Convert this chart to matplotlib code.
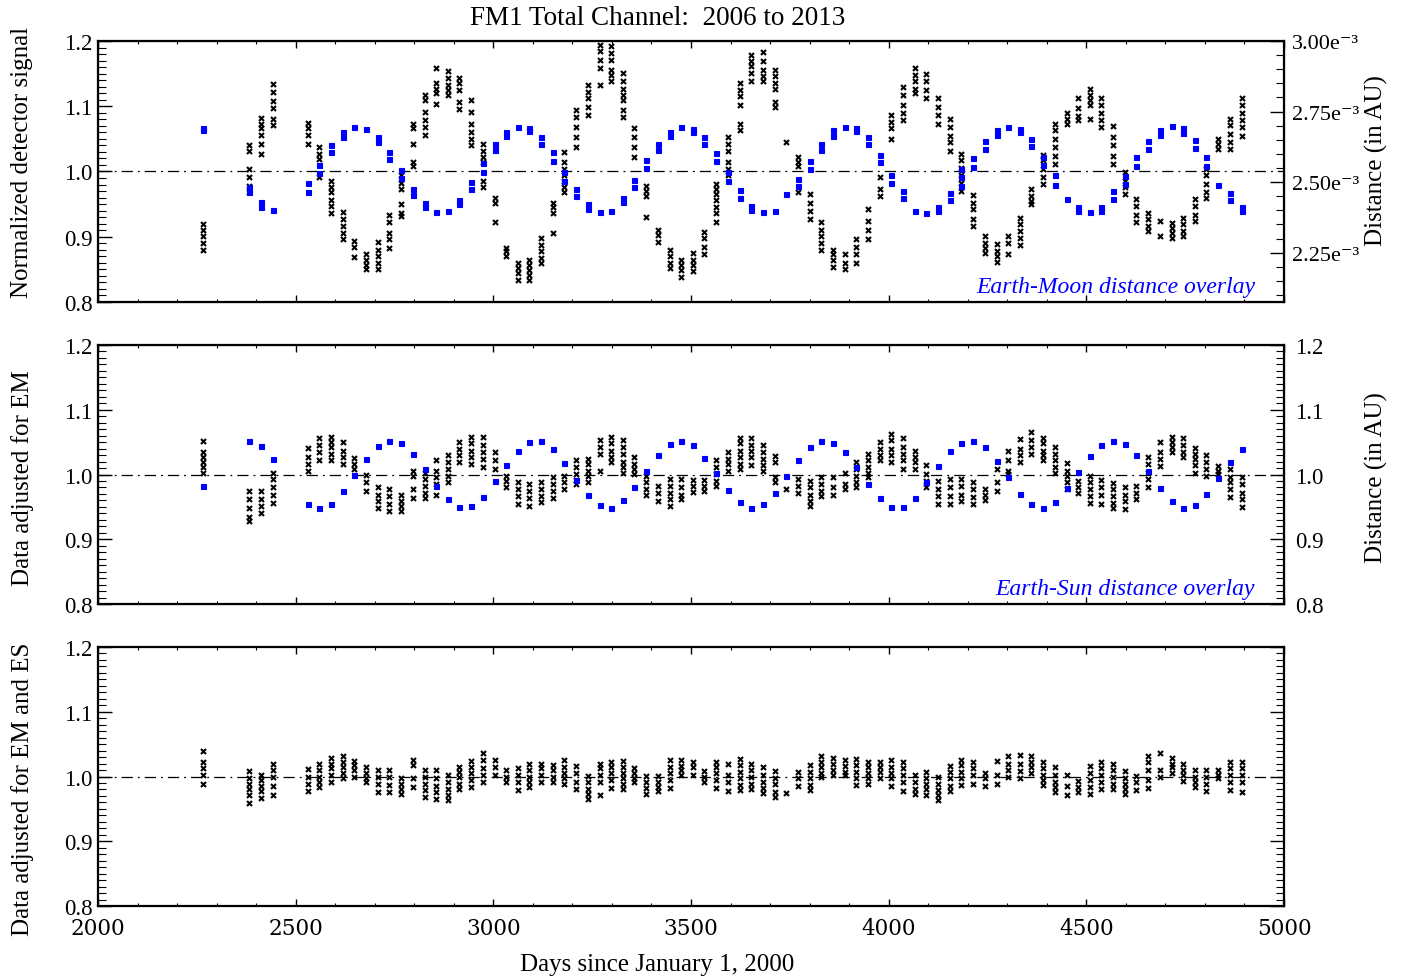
import numpy as np
import matplotlib
matplotlib.use("Agg")
import matplotlib.pyplot as plt
from matplotlib.ticker import MultipleLocator, FormatStrFormatter, FuncFormatter

plt.rcParams['font.family'] = ['Liberation Serif', 'DejaVu Serif']

# observation days (days since 2000-01-01), one column of points per lunar visit
days = [2265, 2383, 2412, 2442, 2530, 2560, 2589, 2619, 2648, 2678,
        2708, 2737, 2767, 2796, 2826, 2855, 2885, 2914, 2944, 2973,
        3003, 3032, 3062, 3091, 3121, 3150, 3180, 3210, 3239, 3269,
        3298, 3328, 3357, 3387, 3416, 3446, 3475, 3505, 3534, 3564,
        3593, 3623, 3653, 3682, 3712, 3741, 3771, 3800, 3830, 3859,
        3889, 3918, 3948, 3977, 4007, 4036, 4066, 4095, 4125, 4155,
        4184, 4214, 4243, 4273, 4302, 4332, 4361, 4391, 4420, 4450,
        4479, 4509, 4538, 4568, 4597, 4627, 4657, 4686, 4716, 4745,
        4775, 4804, 4834, 4863, 4893]

# normalized detector signal (top panel)
signal_raw = [
    [0.919, 0.911, 0.901, 0.891, 0.880], [1.040, 1.031, 1.004, 0.991, 0.978, 0.968],
    [1.082, 1.073, 1.066, 1.056, 1.042, 1.027], [1.134, 1.122, 1.108, 1.097, 1.081, 1.072],
    [1.074, 1.066, 1.056, 1.042], [1.037, 1.027, 1.019, 0.991],
    [0.986, 0.976, 0.968, 0.957, 0.947, 0.937], [0.938, 0.927, 0.916, 0.906, 0.896],
    [0.893, 0.885, 0.869], [0.874, 0.865, 0.857, 0.850],
    [0.892, 0.880, 0.870, 0.860, 0.850], [0.934, 0.922, 0.906, 0.896, 0.883],
    [0.994, 0.983, 0.973, 0.950, 0.937, 0.932], [1.073, 1.066, 1.042, 1.014, 1.009],
    [1.117, 1.109, 1.091, 1.079, 1.068, 1.056], [1.158, 1.135, 1.127, 1.120, 1.104],
    [1.154, 1.143, 1.133, 1.125, 1.117], [1.144, 1.135, 1.125, 1.107, 1.096],
    [1.109, 1.091, 1.073, 1.060, 1.050, 1.041], [1.042, 1.032, 1.022, 1.014, 0.986, 0.976],
    [0.960, 0.952, 0.922], [0.883, 0.878, 0.870],
    [0.860, 0.852, 0.844, 0.833], [0.865, 0.857, 0.849, 0.842, 0.833],
    [0.898, 0.888, 0.878, 0.867, 0.860], [0.952, 0.945, 0.937, 0.906],
    [1.030, 1.014, 1.004, 0.994, 0.986, 0.976, 0.968], [1.094, 1.084, 1.068, 1.053, 1.037],
    [1.133, 1.122, 1.112, 1.099, 1.086], [1.194, 1.184, 1.171, 1.159, 1.133],
    [1.192, 1.181, 1.171, 1.156, 1.148, 1.138], [1.151, 1.138, 1.127, 1.117, 1.109, 1.094, 1.084],
    [1.066, 1.053, 1.037, 1.022], [0.978, 0.970, 0.963, 0.931],
    [0.911, 0.903, 0.892], [0.880, 0.870, 0.860, 0.852],
    [0.865, 0.857, 0.849, 0.839], [0.875, 0.865, 0.857, 0.848],
    [0.907, 0.898, 0.885, 0.873], [0.981, 0.973, 0.965, 0.957, 0.945, 0.937, 0.922],
    [1.053, 1.042, 1.032, 1.014, 1.004, 0.994], [1.135, 1.125, 1.115, 1.102, 1.073, 1.063],
    [1.179, 1.169, 1.161, 1.151, 1.138], [1.183, 1.169, 1.156, 1.146, 1.138],
    [1.156, 1.146, 1.135, 1.127, 1.107, 1.099], [1.045],
    [1.022, 1.014, 1.009, 0.968], [0.965, 0.952, 0.939, 0.927],
    [0.922, 0.911, 0.901, 0.891, 0.880], [0.880, 0.873, 0.865, 0.854],
    [0.873, 0.860, 0.850], [0.896, 0.885, 0.873, 0.860],
    [0.942, 0.924, 0.911, 0.897], [0.991, 0.973, 0.963],
    [1.087, 1.076, 1.066, 1.050], [1.130, 1.117, 1.102, 1.089, 1.079],
    [1.158, 1.148, 1.138, 1.127, 1.120], [1.149, 1.138, 1.125, 1.112],
    [1.112, 1.099, 1.086, 1.073], [1.080, 1.068, 1.055, 1.045, 1.032],
    [1.027, 1.017, 1.006, 0.994, 0.983, 0.970], [0.964, 0.952, 0.942, 0.927, 0.916],
    [0.901, 0.891, 0.883, 0.875], [0.889, 0.878, 0.870, 0.862],
    [0.901, 0.891, 0.873], [0.929, 0.919, 0.909, 0.898, 0.888],
    [0.973, 0.963, 0.955, 0.950], [1.025, 1.017, 1.004, 0.991, 0.981],
    [1.073, 1.063, 1.050, 1.037, 1.024, 1.012], [1.089, 1.081, 1.073],
    [1.112, 1.097, 1.085, 1.079], [1.127, 1.117, 1.109, 1.102, 1.081],
    [1.112, 1.102, 1.089, 1.079, 1.068], [1.070, 1.053, 1.040, 1.024, 1.012],
    [0.999, 0.986, 0.976, 0.965], [0.958, 0.947, 0.934, 0.922],
    [0.937, 0.927, 0.916, 0.909], [0.924, 0.901],
    [0.921, 0.914, 0.906, 0.898], [0.929, 0.919, 0.909, 0.901],
    [0.958, 0.947, 0.934, 0.924], [1.004, 0.994, 0.981, 0.968, 0.960],
    [1.050, 1.042, 1.035], [1.081, 1.071, 1.058, 1.045, 1.035],
    [1.112, 1.102, 1.089, 1.079, 1.068, 1.055],
]

# Earth-Moon distance, units of 1e-3 AU
moon_dist = [
    [2.693, 2.685], [2.481, 2.465], [2.430, 2.410], [2.400], [2.496, 2.466],
    [2.561, 2.531], [2.630, 2.606], [2.677, 2.660], [2.695], [2.689],
    [2.660, 2.642], [2.606, 2.582], [2.543, 2.514], [2.477, 2.453], [2.427, 2.410],
    [2.394], [2.396], [2.437, 2.422], [2.500, 2.474], [2.567, 2.537],
    [2.636, 2.612], [2.677, 2.662], [2.695], [2.690, 2.680], [2.660, 2.636],
    [2.606, 2.576], [2.535, 2.505], [2.475, 2.451], [2.421, 2.404], [2.394],
    [2.397], [2.445, 2.428], [2.507, 2.483], [2.580, 2.549], [2.636, 2.612],
    [2.677, 2.662], [2.695], [2.689, 2.677], [2.660, 2.636], [2.602, 2.576],
    [2.535, 2.505], [2.472, 2.445], [2.416, 2.402], [2.394], [2.397],
    [2.458], [2.511, 2.487], [2.576, 2.546], [2.636, 2.612], [2.683, 2.665],
    [2.695], [2.690, 2.680], [2.660, 2.636], [2.596, 2.570], [2.525, 2.498],
    [2.469, 2.445], [2.397], [2.392], [2.410, 2.398], [2.461, 2.437],
    [2.547, 2.517, 2.487], [2.585, 2.553], [2.645, 2.616], [2.683, 2.668], [2.695],
    [2.689, 2.677], [2.652, 2.628], [2.589, 2.559], [2.525, 2.489], [2.440],
    [2.411, 2.399], [2.394], [2.411, 2.399], [2.469, 2.439], [2.523, 2.493],
    [2.589, 2.557], [2.645, 2.616], [2.683, 2.668], [2.697], [2.690, 2.674],
    [2.648, 2.621], [2.589, 2.557], [2.490], [2.461, 2.437], [2.410, 2.398],
]

# signal adjusted for Earth-Moon distance (middle panel)
adj_em = [
    [1.052, 1.035, 1.027, 1.019, 1.011, 1.003], [0.975, 0.962, 0.948, 0.935, 0.928],
    [0.975, 0.962, 0.951, 0.940], [1.003, 0.993, 0.980, 0.969, 0.956],
    [1.041, 1.027, 1.016, 1.006], [1.056, 1.046, 1.035, 1.022],
    [1.058, 1.050, 1.043, 1.032, 1.022], [1.050, 1.037, 1.027, 1.016],
    [1.025, 1.016, 1.009], [0.999, 0.988, 0.975],
    [0.980, 0.969, 0.959, 0.948], [0.977, 0.967, 0.954, 0.943],
    [0.968, 0.959, 0.951, 0.943], [1.006, 0.998, 0.977, 0.964],
    [1.003, 0.993, 0.982, 0.972, 0.964], [1.022, 1.006, 0.996, 0.985, 0.969],
    [1.030, 1.019, 1.009, 0.998, 0.989], [1.050, 1.040, 1.030, 1.019],
    [1.058, 1.048, 1.037, 1.027, 1.016], [1.058, 1.045, 1.035, 1.024, 1.011],
    [1.035, 1.022, 1.008], [0.998, 0.990, 0.980],
    [0.989, 0.977, 0.967, 0.955], [0.985, 0.975, 0.964, 0.952],
    [0.988, 0.977, 0.967, 0.957], [0.996, 0.985, 0.975, 0.964],
    [0.998, 0.988, 0.977], [1.022, 1.011, 1.001, 0.992, 0.985],
    [1.024, 1.016, 1.006, 0.998, 0.989], [1.053, 1.043, 1.032, 1.006],
    [1.058, 1.048, 1.037, 1.027, 1.019], [1.053, 1.043, 1.032, 1.019, 1.011, 1.003],
    [1.027, 1.016, 1.009, 1.001], [0.998, 0.988, 0.977, 0.969],
    [0.982, 0.972, 0.959], [0.993, 0.982, 0.972, 0.962, 0.952],
    [0.993, 0.980, 0.969, 0.962], [0.992, 0.982, 0.973],
    [0.992, 0.982, 0.975], [1.022, 1.011, 1.001, 0.990, 0.982],
    [1.035, 1.024, 1.016, 1.006], [1.057, 1.048, 1.037, 1.027, 1.016, 1.009],
    [1.056, 1.045, 1.036, 1.027, 1.015], [1.046, 1.035, 1.024, 1.014, 1.006],
    [1.028, 1.019, 0.996, 0.988], [0.978],
    [0.993, 0.982, 0.972], [0.990, 0.980, 0.969, 0.959, 0.951],
    [0.996, 0.985, 0.975, 0.967], [0.996, 0.980, 0.969],
    [1.003, 0.985, 0.977], [1.019, 1.009, 0.998, 0.988, 0.980],
    [1.032, 1.022, 1.011, 1.003, 0.996], [1.050, 1.040, 1.030, 1.022],
    [1.062, 1.053, 1.040, 1.030, 1.019], [1.056, 1.043, 1.032, 1.022, 1.009],
    [1.037, 1.027, 1.019, 1.009], [1.014, 1.001, 0.990, 0.980],
    [0.990, 0.977, 0.967, 0.955], [0.993, 0.980, 0.967, 0.954],
    [0.993, 0.982, 0.969, 0.959], [0.988, 0.977, 0.966, 0.954],
    [0.978, 0.969, 0.960], [1.009, 0.988, 0.975],
    [1.037, 1.022, 1.006, 1.001], [1.055, 1.040, 1.030, 1.019],
    [1.065, 1.053, 1.043, 1.032], [1.057, 1.048, 1.037, 1.030, 1.022],
    [1.043, 1.032, 1.022, 1.011, 1.003], [1.018, 1.006, 0.998, 0.988, 0.977],
    [0.990, 0.980, 0.972], [0.998, 0.988, 0.977, 0.967, 0.956],
    [0.992, 0.981, 0.969, 0.954], [0.987, 0.977, 0.967, 0.956, 0.948],
    [0.980, 0.969, 0.959, 0.946], [0.982, 0.972, 0.962],
    [1.027, 1.016, 1.003, 0.993, 0.980], [1.050, 1.035, 1.024, 1.013],
    [1.058, 1.050, 1.043, 1.035], [1.056, 1.045, 1.035, 1.027],
    [1.041, 1.032, 1.024, 1.014, 1.003], [1.030, 1.019, 1.009, 0.998],
    [1.013, 1.006, 1.001], [1.009, 0.996, 0.988, 0.977, 0.966],
    [0.996, 0.985, 0.972, 0.962, 0.950],
]

# Earth-Sun distance overlay (middle panel, right axis)
sun_dist = [0.983, 1.052, 1.044, 1.024, 0.955, 0.949, 0.955, 0.974, 1.000, 1.024,
            1.044, 1.052, 1.048, 1.032, 1.009, 0.982, 0.962, 0.950, 0.951, 0.966,
            0.990, 1.015, 1.037, 1.050, 1.051, 1.039, 1.017, 0.992, 0.968, 0.953,
            0.949, 0.960, 0.980, 1.006, 1.030, 1.047, 1.052, 1.045, 1.026, 1.002,
            0.976, 0.957, 0.949, 0.955, 0.972, 0.997, 1.022, 1.042, 1.052, 1.049,
            1.035, 1.012, 0.985, 0.963, 0.950, 0.950, 0.964, 0.989, 1.013, 1.036,
            1.049, 1.052, 1.042, 1.021, 0.996, 0.970, 0.954, 0.949, 0.958, 0.979,
            1.004, 1.028, 1.046, 1.052, 1.047, 1.030, 1.005, 0.979, 0.959, 0.949,
            0.953, 0.970, 0.995, 1.020, 1.040]

# signal adjusted for Earth-Moon and Earth-Sun distance (bottom panel)
adj_es = [
    [1.040, 1.023, 1.013, 1.002, 0.989], [1.008, 0.997, 0.989, 0.981, 0.971, 0.959],
    [1.002, 0.994, 0.986, 0.977, 0.967], [1.020, 1.010, 0.999, 0.986, 0.971],
    [1.011, 0.999, 0.989, 0.977], [1.020, 1.010, 0.999, 0.992, 0.984],
    [1.028, 1.020, 1.013, 1.002, 0.992], [1.032, 1.023, 1.015, 1.005, 0.997],
    [1.024, 1.018, 1.010, 0.999], [1.015, 1.005, 0.997, 0.991],
    [1.010, 0.999, 0.989, 0.976], [1.010, 0.999, 0.987, 0.976],
    [0.998, 0.989, 0.981, 0.973], [1.026, 1.018, 0.997, 0.984],
    [1.010, 0.999, 0.989, 0.979, 0.968], [1.010, 0.997, 0.986, 0.976, 0.966],
    [1.002, 0.992, 0.981, 0.971, 0.963], [1.015, 1.007, 0.999, 0.989, 0.981],
    [1.024, 1.015, 1.005, 0.994, 0.984], [1.036, 1.026, 1.013, 1.002, 0.992],
    [1.026, 1.015, 1.002], [1.010, 0.999, 0.992],
    [1.013, 1.002, 0.992, 0.979], [1.020, 1.010, 0.999, 0.992, 0.984],
    [1.020, 1.013, 1.002, 0.992], [1.018, 1.010, 0.999, 0.992],
    [1.026, 1.015, 1.005, 0.997, 0.989], [1.017, 1.005, 0.992, 0.980],
    [1.001, 0.992, 0.981, 0.973, 0.966], [1.020, 1.013, 1.002, 0.992, 0.972],
    [1.023, 1.014, 1.005, 0.994, 0.982], [1.024, 1.015, 1.005, 0.997, 0.989, 0.981],
    [1.013, 1.005, 0.997, 0.992], [1.001, 0.992, 0.982, 0.973],
    [1.001, 0.992, 0.984, 0.977], [1.026, 1.015, 1.005, 0.994, 0.982],
    [1.026, 1.017, 1.010, 1.003], [1.022, 1.014, 1.003],
    [1.008, 0.999, 0.991], [1.023, 1.015, 1.005, 0.994, 0.982],
    [1.019, 1.002, 0.992, 0.977], [1.027, 1.018, 1.007, 0.997, 0.987, 0.979],
    [1.020, 1.010, 0.999, 0.989, 0.980], [1.014, 1.002, 0.992, 0.983, 0.975],
    [1.008, 0.997, 0.989, 0.976, 0.968], [0.975],
    [1.007, 0.997, 0.985], [1.018, 1.007, 0.997, 0.987, 0.979],
    [1.031, 1.023, 1.014, 1.005, 0.999], [1.029, 1.020, 1.010, 1.002],
    [1.026, 1.017, 1.007, 1.002], [1.027, 1.018, 1.007, 0.997, 0.987],
    [1.023, 1.014, 1.005, 0.997, 0.989], [1.023, 1.015, 1.007, 0.998],
    [1.026, 1.015, 1.005, 0.997, 0.986], [1.022, 1.013, 1.002, 0.992, 0.977],
    [1.002, 0.992, 0.981, 0.973], [1.007, 0.997, 0.989, 0.981, 0.972],
    [0.999, 0.989, 0.979, 0.971, 0.963], [1.017, 1.007, 0.997, 0.986, 0.977],
    [1.026, 1.018, 1.007, 0.997, 0.987], [1.022, 1.013, 1.002, 0.989],
    [1.005, 0.997, 0.986], [1.024, 1.002, 0.989],
    [1.032, 1.020, 1.010, 0.999], [1.033, 1.020, 1.008, 0.997],
    [1.032, 1.023, 1.014, 1.005], [1.023, 1.013, 1.002, 0.994, 0.987],
    [1.014, 1.002, 0.992, 0.984, 0.976], [1.002, 0.986, 0.971],
    [0.993, 0.984, 0.976], [1.017, 1.005, 0.994, 0.984, 0.973],
    [1.023, 1.013, 1.002, 0.992, 0.981], [1.020, 1.010, 0.999, 0.989, 0.981],
    [1.008, 0.998, 0.989, 0.981, 0.973], [1.001, 0.992, 0.979],
    [1.031, 1.023, 1.010, 0.994, 0.982], [1.036, 1.010, 0.999],
    [1.029, 1.020, 1.014, 1.006], [1.020, 1.010, 1.002, 0.993],
    [1.010, 0.999, 0.992, 0.984], [1.010, 0.999, 0.989, 0.977],
    [1.010, 1.002, 0.997], [1.023, 1.013, 1.002, 0.992, 0.979],
    [1.023, 1.013, 1.002, 0.992, 0.976],
]


def flatten(xs, cols):
    x = np.concatenate([[d] * len(c) for d, c in zip(xs, cols)])
    y = np.concatenate([np.asarray(c, dtype=float) for c in cols])
    return x, y


def style_panel(ax, show_xlabels=False):
    ax.set_xlim(2000, 5000)
    ax.set_ylim(0.8, 1.2)
    ax.xaxis.set_major_locator(MultipleLocator(500))
    ax.xaxis.set_minor_locator(MultipleLocator(100))
    ax.yaxis.set_major_locator(MultipleLocator(0.1))
    ax.yaxis.set_minor_locator(MultipleLocator(0.01))
    ax.yaxis.set_major_formatter(FormatStrFormatter('%.1f'))
    ax.tick_params(axis='x', which='major', direction='in', top=True, length=5, width=1,
                   labelbottom=show_xlabels, pad=8)
    ax.tick_params(axis='x', which='minor', direction='in', top=True, length=2.5, width=0.8)
    ax.tick_params(axis='y', which='major', direction='in', length=10, width=1, labelsize=16.5, pad=4)
    ax.tick_params(axis='y', which='minor', direction='in', length=6, width=0.8)
    for sp in ax.spines.values():
        sp.set_linewidth(1.6)
    ax.axhline(1.0, color='black', lw=0.9, dashes=(9, 4, 1.5, 4), zorder=1)
    if show_xlabels:
        for lab in ax.get_xticklabels():
            lab.set_fontfamily('DejaVu Serif')
            lab.set_fontsize(15.5)


fig = plt.figure(figsize=(14.02, 9.79), dpi=100)
ax1 = fig.add_axes([0.0699, 0.6905, 0.8459, 0.2666])
ax2 = fig.add_axes([0.0699, 0.3820, 0.8459, 0.2646])
ax3 = fig.add_axes([0.0699, 0.0735, 0.8459, 0.2646])

black_kw = dict(ls='none', marker='x', ms=3.6, mew=1.5, color='black', zorder=3)
blue_kw = dict(ls='none', marker='s', ms=3.6, mew=0.8, color='blue', mec='blue', zorder=3)

# top panel: raw signal with Earth-Moon distance overlay
style_panel(ax1)
x, y = flatten(days, signal_raw)
ax1.plot(x, y, **black_kw)
ax1r = ax1.twinx()
xb, yb = flatten(days, moon_dist)
ax1r.plot(xb, yb, **blue_kw)
ax1r.set_ylim(2.075, 3.0)
ax1r.yaxis.set_major_locator(MultipleLocator(0.25))
ax1r.yaxis.set_minor_locator(MultipleLocator(0.05))
ax1r.yaxis.set_major_formatter(FuncFormatter(lambda v, p: f'{v:.2f}e\u207b\u00b3'))
ax1r.tick_params(axis='y', which='major', direction='in', length=10, width=1, labelsize=16, pad=6)
ax1r.tick_params(axis='y', which='minor', direction='in', length=6, width=0.8)
ax1.text(0.9756, 0.038, 'Earth-Moon distance overlay', transform=ax1.transAxes,
         ha='right', va='baseline', color='blue', style='italic', fontsize=17)

# middle panel: adjusted for EM, Earth-Sun overlay
style_panel(ax2)
x, y = flatten(days, adj_em)
ax2.plot(x, y, **black_kw)
ax2r = ax2.twinx()
ax2r.plot(days, sun_dist, **blue_kw)
ax2r.set_ylim(0.8, 1.2)
ax2r.yaxis.set_major_locator(MultipleLocator(0.1))
ax2r.yaxis.set_minor_locator(MultipleLocator(0.01))
ax2r.yaxis.set_major_formatter(FormatStrFormatter('%.1f'))
ax2r.tick_params(axis='y', which='major', direction='in', length=10, width=1, labelsize=16.5, pad=8)
ax2r.tick_params(axis='y', which='minor', direction='in', length=6, width=0.8)
ax2.text(0.9756, 0.038, 'Earth-Sun distance overlay', transform=ax2.transAxes,
         ha='right', va='baseline', color='blue', style='italic', fontsize=17)

# bottom panel: adjusted for EM and ES
style_panel(ax3, show_xlabels=True)
ax3.tick_params(axis='y', which='both', right=True)
x, y = flatten(days, adj_es)
ax3.plot(x, y, **black_kw)

fig.text(0.469, 0.9816, 'FM1 Total Channel:  2006 to 2013', ha='center', va='center', fontsize=19.5)
fig.text(0.469, 0.014, 'Days since January 1, 2000', ha='center', va='center', fontsize=18)
fig.text(0.0157, 0.834, 'Normalized detector signal', rotation=90, ha='center', va='center', fontsize=18)
fig.text(0.0157, 0.512, 'Data adjusted for EM', rotation=90, ha='center', va='center', fontsize=18)
fig.text(0.0157, 0.194, 'Data adjusted for EM and ES', rotation=90, ha='center', va='center', fontsize=18)
fig.text(0.982, 0.836, 'Distance (in AU)', rotation=90, ha='center', va='center', fontsize=18)
fig.text(0.982, 0.512, 'Distance (in AU)', rotation=90, ha='center', va='center', fontsize=18)

fig.savefig('out.png', dpi=100)
